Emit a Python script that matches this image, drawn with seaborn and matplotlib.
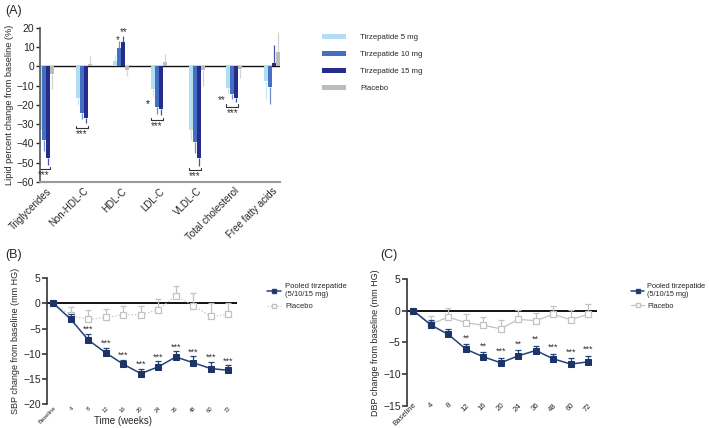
import numpy as np
import pandas as pd
import seaborn as sns
import matplotlib.pyplot as plt
from matplotlib.patches import Patch
from matplotlib.lines import Line2D

# ---- panel A data: lipid percent change from baseline ----
lipids = ['Triglycerides', 'Non-HDL-C', 'HDL-C', 'LDL-C', 'VLDL-C',
          'Total cholesterol', 'Free fatty acids']
treatments = ['Tirzepatide 5 mg', 'Tirzepatide 10 mg', 'Tirzepatide 15 mg', 'Placebo']
tzp5 = [-33, -16.5, 3, -12, -33, -11.5, -7.5]
tzp5_se = [5, 3.5, 3, 4, 5, 2.5, 9.5]
tzp10 = [-38.5, -24, 9.5, -21, -39.5, -14.5, -10.5]
tzp10_se = [5.5, 3.5, 3.5, 4, 5.5, 2.5, 9]
tzp15 = [-47.5, -27, 12.5, -22, -47.5, -16.5, 1.5]
tzp15_se = [3.5, 2.5, 3.5, 3.5, 4, 2, 9.5]
pbo = [-4, 1, -2, 2, -2, -1.5, 7.5]
pbo_se = [8, 4.5, 3, 4.5, 8, 4.5, 10.5]
bracket_lipids = ['Triglycerides', 'Non-HDL-C', 'LDL-C', 'VLDL-C', 'Total cholesterol']

# ---- panels B / C data: blood pressure over time ----
weeks = ['Baseline', '4', '8', '12', '16', '20', '24', '36', '48', '60', '72']
sbp_tzp = [0, -3.2, -7.3, -9.85, -12.1, -13.95, -12.6, -10.65, -11.8, -12.95, -13.3]
sbp_tzp_se = [0, 1.0, 1.3, 1.05, 0.9, 1.0, 1.1, 1.2, 1.3, 1.35, 1.1]
sbp_pbo = [0, -2.4, -3.2, -2.8, -2.25, -2.25, -1.25, 1.5, -0.45, -2.6, -2.2]
sbp_pbo_se = [0, 1.7, 1.8, 1.75, 1.8, 1.8, 2.1, 1.9, 2.45, 2.6, 2.2]
sbp_sig = ['', '', '***', '***', '***', '***', '***', '***', '***', '***', '***']

dbp_tzp = [0, -2.27, -3.74, -6.06, -7.27, -8.2, -7.1, -6.27, -7.58, -8.4, -8.05]
dbp_tzp_se = [0, 0.85, 0.85, 0.75, 0.75, 0.8, 0.85, 0.75, 0.75, 0.9, 0.95]
dbp_pbo = [0, -2.1, -1.0, -1.9, -2.3, -2.85, -1.37, -1.58, -0.58, -1.42, -0.58]
dbp_pbo_se = [0, 1.2, 1.37, 1.35, 1.25, 1.35, 1.5, 1.15, 1.37, 1.5, 1.7]
dbp_sig = ['', '', '', '**', '**', '***', '**', '**', '***', '***', '***']

bar_colors = ['#b2def4', '#4470c2', '#262c8b', '#bcbcbc']
err_colors = ['#c9e8f8', '#6d8fd0', '#4a52a6', '#d2d2d2']
tzp_color = '#24427a'
pbo_color = '#c2c2c2'

sns.set_style('white')
plt.rcParams['font.family'] = ['Liberation Sans', 'DejaVu Sans']
plt.rcParams['axes.linewidth'] = 1.2

fig = plt.figure(figsize=(7.09, 4.28), dpi=100)

# ================= panel A =================
axA = fig.add_axes([0.0564, 0.575, 0.3385, 0.36])
rows = []
for vals, ses, tr in zip([tzp5, tzp10, tzp15, pbo], [tzp5_se, tzp10_se, tzp15_se, pbo_se], treatments):
    for lip, v, s in zip(lipids, vals, ses):
        rows.append({'lipid': lip, 'treatment': tr, 'value': v, 'se': s})
dfA = pd.DataFrame(rows)

sns.barplot(data=dfA, x='lipid', y='value', hue='treatment', order=lipids,
            hue_order=treatments, palette=bar_colors, width=0.43, linewidth=0,
            errorbar=None, ax=axA, legend=False, saturation=1)

ends = {}
for k, (cont, tr) in enumerate(zip(axA.containers, treatments)):
    sub = dfA[dfA.treatment == tr].set_index('lipid').loc[lipids]
    for bar, (lip, r) in zip(cont, sub.iterrows()):
        xc = bar.get_x() + bar.get_width() / 2
        end = r.value + np.sign(r.value) * r.se
        axA.vlines(xc, r.value, end, color=err_colors[k], lw=0.9, zorder=1)
        ends[(lip, k)] = (bar.get_x(), bar.get_x() + bar.get_width(), end)

star_kw = dict(ha='center', va='center', fontsize=7, color='#333333')
for lip in bracket_lipids:
    x0 = ends[(lip, 0)][0]
    x1 = ends[(lip, 2)][1]
    yb = min(ends[(lip, k)][2] for k in range(3)) - 2.5
    axA.plot([x0, x0, x1, x1], [yb + 1.2, yb, yb, yb + 1.2], color='#333333', lw=0.8)
    axA.text((x0 + x1) / 2, yb - 3.2, '***', **star_kw)
# single stars
x0, x1, e = ends[('HDL-C', 1)]
axA.text((x0 + x1) / 2 - 0.03, e + 0.6, '*', **star_kw)
x0, x1, e = ends[('HDL-C', 2)]
axA.text((x0 + x1) / 2 + 0.02, e + 1.8, '**', **star_kw)
x0, x1, e = ends[('LDL-C', 0)]
axA.text(x0 - 0.03, e - 3.5, '*', ha='right', va='center', fontsize=7, color='#111111')
x0, x1, e = ends[('Total cholesterol', 0)]
axA.text(x0 - 0.02, e - 3.5, '**', ha='right', va='center', fontsize=7, color='#333333')

axA.axhline(0, color='#111111', lw=1.0, zorder=0)
axA.set_ylim(-60, 20)
axA.set_xlim(-0.16, 6.21)
axA.set_yticks(range(-60, 21, 10))
axA.set_xlabel('')
axA.set_ylabel('Lipid percent change from baseline (%)', fontsize=6.6, labelpad=2)
axA.tick_params(axis='y', labelsize=7.5, length=3, width=1, direction='out', left=True, pad=1)
axA.tick_params(axis='x', labelsize=7, length=0, pad=3)
plt.setp(axA.get_xticklabels(), rotation=45, ha='right', rotation_mode='anchor')
for s in ['top', 'right']:
    axA.spines[s].set_visible(False)
axA.spines['left'].set_color('#555555')
axA.spines['bottom'].set_color('#999999')
axA.spines['bottom'].set_linewidth(1.5)

handles = [Patch(facecolor=c, edgecolor='none') for c in bar_colors]
fig.legend(handles, treatments, loc='upper left', bbox_to_anchor=(0.449, 0.93),
           frameon=False, fontsize=5.6, borderpad=0, handlelength=3.0, handleheight=0.6,
           labelspacing=1.25, handletextpad=1.9)


# ================= panels B / C =================
def bp_panel(ax, tzp, tzp_se, pbo_v, pbo_se, sig, ylim, ylabel, pbo_ls, star_off,
             tick_fs, tick_pad, time_label):
    pos = np.arange(len(weeks))
    sns.lineplot(x=pos, y=pbo_v, color=pbo_color, marker='s', markersize=4.3,
                 markerfacecolor='white', markeredgecolor=pbo_color, markeredgewidth=0.9,
                 linestyle=pbo_ls, lw=0.9, ax=ax, zorder=2)
    ax.errorbar(pos, pbo_v, yerr=[np.zeros(len(pos)), pbo_se], fmt='none',
                ecolor=pbo_color, elinewidth=0.9, capsize=2.3, capthick=0.9, zorder=1)
    sns.lineplot(x=pos, y=tzp, color=tzp_color, marker='s', markersize=4.3,
                 markerfacecolor='#1d3466', markeredgecolor='#1d3466', lw=1.1, ax=ax, zorder=4)
    ax.errorbar(pos, tzp, yerr=[np.zeros(len(pos)), tzp_se], fmt='none',
                ecolor=tzp_color, elinewidth=0.9, capsize=2.3, capthick=0.9, zorder=3)
    for p, v, s, t in zip(pos, tzp, tzp_se, sig):
        if t:
            ax.text(p, v + s + star_off, t, ha='center', va='center', fontsize=6.5, color='#333333')
    ax.axhline(0, color='#111111', lw=1.4, zorder=0)
    ax.set_ylim(*ylim)
    ax.set_xlim(-0.37, 10.5)
    ax.set_yticks(range(ylim[0], ylim[1] + 1, 5))
    ax.set_xticks(pos)
    ax.set_xticklabels(weeks)
    ax.set_ylabel(ylabel, fontsize=6.5, labelpad=2)
    ax.tick_params(axis='y', labelsize=7.5, length=3.5, width=1.1, direction='out', left=True, pad=1)
    ax.tick_params(axis='x', labelsize=tick_fs, length=0, pad=tick_pad)
    plt.setp(ax.get_xticklabels(), rotation=45, ha='right', rotation_mode='anchor')
    for s in ['top', 'right', 'bottom']:
        ax.spines[s].set_visible(False)
    ax.spines['left'].set_color('#333333')
    if time_label:
        ax.set_xlabel('Time (weeks)', fontsize=7)
        ax.xaxis.set_label_coords(0.4, -0.095)
    else:
        ax.set_xlabel('')
    h = [Line2D([], [], color=tzp_color, marker='s', markersize=3.5, markerfacecolor='#1d3466', lw=1.1),
         Line2D([], [], color=pbo_color, marker='s', markersize=3.5, markerfacecolor='white',
                linestyle=pbo_ls, lw=0.9)]
    return h


axB = fig.add_axes([0.0663, 0.056, 0.268, 0.294])
hB = bp_panel(axB, sbp_tzp, sbp_tzp_se, sbp_pbo, sbp_pbo_se, sbp_sig, (-20, 5),
              'SBP change from baseline (mm HG)', ':', 0.8, 4.2, 1, True)
fig.legend(hB, ['Pooled tirzepatide\n(5/10/15 mg)', 'Placebo'], loc='upper left',
           bbox_to_anchor=(0.371, 0.347), frameon=False, fontsize=5.5, borderpad=0,
           handlelength=1.8, labelspacing=0.6, handletextpad=0.6)

axC = fig.add_axes([0.574, 0.0514, 0.268, 0.297])
hC = bp_panel(axC, dbp_tzp, dbp_tzp_se, dbp_pbo, dbp_pbo_se, dbp_sig, (-15, 5),
              'DBP change from baseline (mm HG)', '-', 1.0, 5.6, -3, False)
fig.legend(hC, ['Pooled tirzepatide\n(5/10/15 mg)', 'Placebo'], loc='upper left',
           bbox_to_anchor=(0.885, 0.347), frameon=False, fontsize=5.3, borderpad=0,
           handlelength=1.8, labelspacing=0.6, handletextpad=0.4)

fig.text(0.007, 0.988, '(A)', fontsize=9, va='top')
fig.text(0.007, 0.418, '(B)', fontsize=9, va='top')
fig.text(0.536, 0.418, '(C)', fontsize=9, va='top')

fig.savefig('out.png', dpi=100)
